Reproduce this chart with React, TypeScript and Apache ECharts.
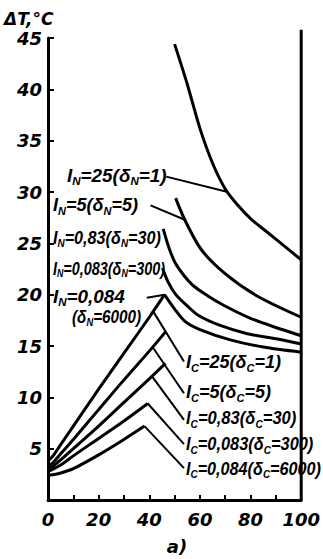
import { useEffect, useRef } from "react";
import * as echarts from "echarts";

// Time, min (x) and temperature rise ΔT, °C (y)

// Rise curves while loaded, one per I_c
const riseC25 = [[0, 3.8], [2, 4.3], [5, 5.4], [10, 7.2], [20, 10.8], [30, 14.3], [40, 17.8], [46, 20.0]];
const riseC5 = [[0, 3.3], [2, 3.65], [5, 4.5], [10, 5.9], [20, 8.8], [30, 11.7], [40, 14.5], [46.5, 16.4]];
const riseC083 = [[0, 3.0], [2, 3.3], [5, 3.9], [10, 5.0], [20, 7.2], [30, 9.5], [40, 11.8], [46.4, 13.3]];
const riseC0083 = [[0, 2.8], [2, 3.0], [5, 3.4], [10, 4.3], [20, 6.0], [30, 7.7], [39.4, 9.4]];
const riseC0084 = [[0, 2.4], [3, 2.5], [6, 2.7], [10, 3.05], [20, 4.4], [30, 5.9], [38.1, 7.2]];

// Falling curves, one per I_N
const fallN25 = [[50, 44.4], [55, 40.5], [60, 36.2], [65, 32.8], [70, 30.3], [75, 28.7], [80, 27.4], [86, 26.2], [93, 24.8], [100, 23.4]];
const fallN5 = [[50.4, 29.4], [54, 27.3], [60.5, 24.4], [69.7, 22.1], [82.4, 19.9], [100, 17.8]];
const fallN083 = [[45.5, 26.4], [48, 24.4], [50.7, 22.9], [56.8, 21.0], [63, 19.9], [69.9, 18.9], [80, 17.7], [90, 16.8], [100, 16.0]];
const fallN0083 = [[45.2, 22.6], [47.5, 21.2], [50.5, 20.0], [55, 18.9], [59.3, 18.0], [68, 17.0], [78.7, 16.2], [90, 15.7], [100, 15.2]];
const fallN0084 = [[46, 20.0], [50, 18.6], [54.1, 17.4], [60, 16.6], [72, 15.6], [85, 14.9], [100, 14.4]];

// Right-hand limit of the time range
const frameRight = [[100, 0], [100, 45.8]];

// Leader lines from the captions to their curves
const leadersN = [
  [[46.7, 31.5], [71, 30.0]],
  [[40.5, 28.7], [54, 27.3]],
  [[39, 19.7], [46, 20.0]],
];
const leadersC = [
  [[53.7, 13.5], [41.6, 18.35]],
  [[53.7, 10.4], [41.3, 14.9]],
  [[53.7, 7.8], [41.1, 12.05]],
  [[53.7, 5.45], [39.4, 9.4]],
  [[53.7, 3.1], [38.1, 7.2]],
];

// Caption texts
const currentsN = ["25", "5", "0,83", "0,083", "0,084"];
const deltasN = ["1", "5", "30", "300", "6000"];
const currentsC = ["25", "5", "0,83", "0,083", "0,084"];
const deltasC = ["1", "5", "30", "300", "6000"];

const axisTitle = "ΔT,°C";
const panelTag = "а)";

const FONT = '"DejaVu Sans", sans-serif';
const CAP = '"Liberation Sans", "DejaVu Sans", sans-serif';

const rich = {
  m: { fontSize: 18, lineHeight: 22, fontFamily: CAP, fontWeight: "bold", fontStyle: "italic", fill: "#000" },
  s: { fontSize: 11, fontFamily: CAP, fontWeight: "bold", fontStyle: "italic", fill: "#000", verticalAlign: "bottom" },
};

function caption(body: string[]): string {
  // body alternates main text and subscripts
  return body.map((t, i) => (i % 2 === 0 ? `{m|${t}}` : `{s|${t}}`)).join("");
}

function textEl(x: number, y: number, text: string, sx: number) {
  return {
    type: "text",
    x,
    y,
    scaleX: sx,
    style: { text, rich, verticalAlign: "middle", align: "left", fill: "#000" },
  };
}

export default function App() {
  const ref = useRef<HTMLDivElement>(null);

  useEffect(() => {
    if (!ref.current) return;
    const chart = echarts.init(ref.current, undefined, { renderer: "svg" });

    const curve = (data: number[][]) => ({
      type: "line",
      data,
      smooth: 0.3,
      symbol: "none",
      clip: false,
      lineStyle: { color: "#000", width: 3 },
      silent: true,
    });
    const leader = (data: number[][]) => ({
      type: "line",
      data,
      symbol: "none",
      clip: false,
      lineStyle: { color: "#000", width: 2 },
      silent: true,
    });

    // caption anchors: left x, middle y, horizontal squeeze
    const nPos = [
      [67, 176, 1.05],
      [53, 205, 1.0],
      [53, 238, 0.9],
      [53, 268, 0.8],
      [53, 297, 1.05],
    ];
    const cPos = [
      [186, 362, 1.0],
      [186, 392, 1.0],
      [186, 418, 0.92],
      [186, 444, 0.91],
      [186, 469, 0.9],
    ];

    const graphics: any[] = [];
    currentsN.forEach((cur, i) => {
      const [x, y, sx] = nPos[i];
      if (i === 4) {
        graphics.push(textEl(x, y, caption(["I", "N", `=${cur}`]), sx));
        graphics.push(textEl(72, 317, caption(["(δ", "N", `=${deltasN[i]})`]), 0.85));
      } else {
        graphics.push(textEl(x, y, caption(["I", "N", `=${cur}(δ`, "N", `=${deltasN[i]})`]), sx));
      }
    });
    currentsC.forEach((cur, i) => {
      const [x, y, sx] = cPos[i];
      graphics.push(textEl(x, y, caption(["I", "C", `=${cur}(δ`, "C", `=${deltasC[i]})`]), sx));
    });
    graphics.push({
      type: "text",
      x: 4,
      y: 19,
      style: {
        text: axisTitle,
        font: `italic bold 17px ${FONT}`,
        fill: "#000",
        verticalAlign: "middle",
      },
    });
    graphics.push({
      type: "text",
      x: 177,
      y: 546,
      style: {
        text: panelTag,
        font: `italic bold 18px ${FONT}`,
        fill: "#000",
        align: "center",
        verticalAlign: "middle",
      },
    });

    const tickFont = { fontFamily: FONT, fontWeight: "bold", fontStyle: "italic", fontSize: 18, color: "#000" };

    chart.setOption({
      animation: false,
      backgroundColor: "#fff",
      grid: { left: 48, top: 38, width: 257, height: 462, containLabel: false },
      xAxis: {
        type: "value",
        min: 0,
        max: 100,
        interval: 10,
        axisLine: { show: true, onZero: false, lineStyle: { color: "#000", width: 3 } },
        axisTick: { show: true, inside: true, length: 5, lineStyle: { color: "#000", width: 2 } },
        axisLabel: {
          ...tickFont,
          margin: 10,
          formatter: (v: number) => (v % 20 === 0 ? String(v) : ""),
        },
        splitLine: { show: false },
      },
      yAxis: {
        type: "value",
        min: 0,
        max: 45,
        interval: 5,
        axisLine: { show: true, onZero: false, lineStyle: { color: "#000", width: 3 } },
        axisTick: { show: true, inside: true, length: 6, lineStyle: { color: "#000", width: 2 } },
        axisLabel: {
          ...tickFont,
          margin: 6,
          formatter: (v: number) => (v === 0 ? "" : String(v)),
        },
        splitLine: { show: false },
      },
      series: [
        { ...leader(frameRight), lineStyle: { color: "#000", width: 3 } },
        curve(riseC25),
        curve(riseC5),
        curve(riseC083),
        curve(riseC0083),
        curve(riseC0084),
        curve(fallN25),
        curve(fallN5),
        curve(fallN083),
        curve(fallN0083),
        curve(fallN0084),
        ...leadersN.map(leader),
        ...leadersC.map(leader),
      ],
      graphic: graphics,
    });

    return () => chart.dispose();
  }, []);

  return (
    <div
      ref={ref}
      style={{ position: "absolute", left: 0, top: 0, width: 323, height: 559, background: "#fff" }}
    />
  );
}
